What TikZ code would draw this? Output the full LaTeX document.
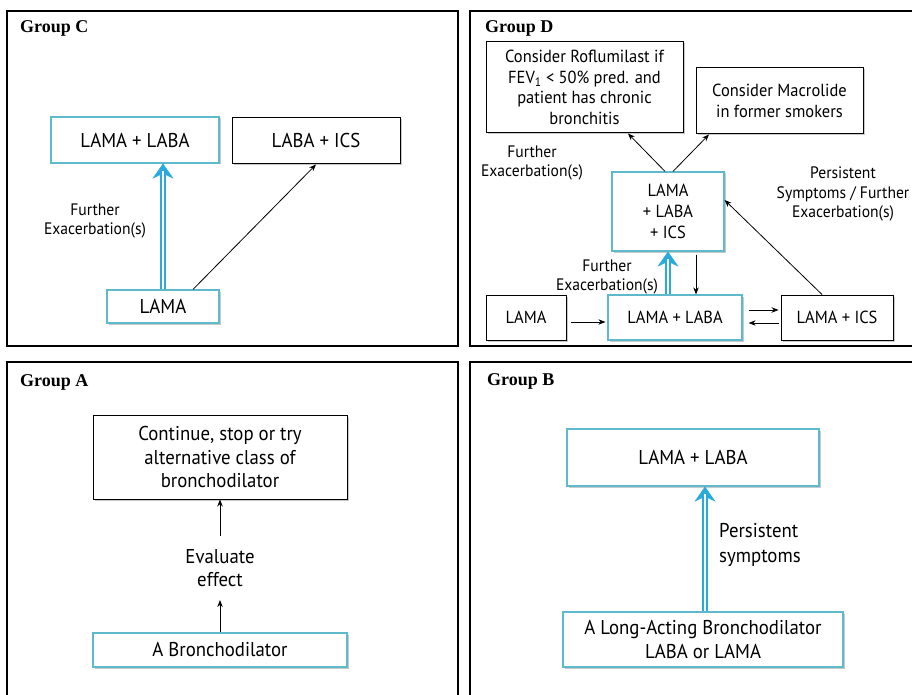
\documentclass[tikz,border=0pt]{standalone}
\usepackage{fontspec}
\setmainfont{PT Sans}[FakeStretch=0.94]
\newfontfamily\titlefont{Liberation Serif}
\usetikzlibrary{arrows.meta,shadows,calc}
\definecolor{boxblue}{RGB}{95,185,205}
\definecolor{arrblue}{RGB}{40,170,220}
\begin{document}
\begin{tikzpicture}[x=1pt,y=-1pt,
  panel/.style={line width=2.2pt},
  ttl/.style={anchor=west, font=\titlefont\bfseries\fontsize{18}{20}\selectfont, inner sep=0},
  box/.style={draw=black, line width=1pt, fill=white, align=center, inner sep=0,
    drop shadow={shadow xshift=1.5pt, shadow yshift=-1.5pt, opacity=0.35, fill=black!60}},
  bbox/.style={box, draw=boxblue, line width=1.2pt},
  big/.style={font=\fontsize{20}{23.5}\selectfont},
  small/.style={font=\fontsize{17.5}{20.7}\selectfont},
  lbl/.style={align=center, inner sep=0, font=\fontsize{16.6}{19.5}\selectfont},
  arr/.style={-{Stealth[length=7pt,width=5.5pt]}, line width=0.8pt},
  dbl/.style={draw=arrblue, line width=6.5pt,
    -{Stealth[length=15pt,width=21pt,inset=5pt,line width=0.3pt]},
    postaction={draw=white, line width=2pt, -, shorten >=7pt}}
]
\useasboundingbox (0,0) rectangle (912,695);
\fill[white] (0,0) rectangle (912,695);
% panels
\draw[panel] (7,11) rectangle (458,346);
\draw[panel] (7,695) -- (7,362) -- (458,362) -- (458,695);
\draw[panel] (912,11) -- (470,11) -- (470,346) -- (912,346);
\draw[panel] (470,695) -- (470,362) -- (912,362);

% Group C
\node[ttl] (tC) at (20,28) {Group C};
\node[bbox,big,minimum width=168pt,minimum height=46pt] (cLL) at (135,140) {LAMA + LABA};
\node[box,big,minimum width=168pt,minimum height=46pt] (cLI) at (316,141) {LABA + ICS};
\node[bbox,big,minimum width=112pt,minimum height=33pt] (cL) at (163,306.5) {LAMA};
\node[lbl] (cF) at (95,221) {Further\\Exacerbation(s)};
\draw[dbl] (cL.north) -- (cL.north |- cLL.south);
\draw[arr] ([xshift=30pt]cL.north) -- (cLI.south);

% Group A
\node[ttl] (tA) at (20,382) {Group A};
\node[box,big,minimum width=254pt,minimum height=84pt] (aT) at (220,457) {Continue, stop or try\\alternative class of\\bronchodilator};
\node[bbox,big,minimum width=254pt,minimum height=34pt] (aB) at (220,650) {A Bronchodilator};
\node[align=center,big,inner xsep=0pt,inner ysep=13pt] (aE) at (220,568) {Evaluate\\effect};
\draw[arr] (aB.north) -- (aE.south);
\draw[arr] (aE.north) -- (aT.south);

% Group B
\node[ttl] (tB) at (487,381) {Group B};
\node[bbox,big,minimum width=252pt,minimum height=57pt] (bT) at (693,457.5) {LAMA + LABA};
\node[bbox,big,minimum width=280pt,minimum height=55pt] (bB) at (703,639.5) {A Long-Acting Bronchodilator\\LABA or LAMA};
\draw[dbl] ([xshift=2pt]bB.north) -- ([xshift=2pt]bB.north |- bT.south);
\node[align=left,anchor=west,inner sep=0,font=\fontsize{20}{25}\selectfont] (bP) at (719,545) {Persistent\\symptoms};

% Group D
\node[ttl] (tD) at (485,28) {Group D};
\node[box,small,minimum width=197pt,minimum height=91pt] (dR) at (584.5,87.5) {Consider Roflumilast if\\FEV\textsubscript{1} < 50\% pred. and\\patient has chronic\\bronchitis};
\node[box,small,minimum width=167pt,minimum height=66pt] (dM) at (779.5,101) {Consider Macrolide\\in former smokers};
\node[lbl] (dF1) at (532,163) {Further\\Exacerbation(s)};
\node[bbox,small,minimum width=112pt,minimum height=79pt] (dT) at (668,211.5) {LAMA\\+ LABA\\+ ICS};
\node[lbl] (dP) at (843,194) {Persistent\\Symptoms / Further\\Exacerbation(s)};
\node[box,small,minimum width=80pt,minimum height=45pt] (dL) at (526,317.5) {LAMA};
\node[bbox,small,minimum width=134pt,minimum height=45pt] (dLL) at (675,317.5) {LAMA + LABA};
\node[box,small,minimum width=112pt,minimum height=45pt] (dLI) at (837,317.5) {LAMA + ICS};
\node[lbl] (dF2) at (607,277) {Further\\Exacerbation(s)};

\draw[arr] ([xshift=-3pt]dT.north) -- ([xshift=43.5pt]dR.south);
\draw[arr] ([xshift=5pt]dT.north) -- ([xshift=-70.5pt]dM.south);
\draw[arr] ([xshift=-15pt]dLI.north) -- ([yshift=11.5pt]dT.east);
\draw[dbl] ([xshift=-7pt]dLL.north) -- ([xshift=-7pt]dLL.north |- dT.south);
\draw[arr, shorten <=3pt] ([xshift=28pt]dT.south) -- ([xshift=28pt]dT.south |- dLL.north);
\draw[arr, shorten <=4pt, shorten >=2pt] ([yshift=-4.5pt]dL.east) -- ([yshift=-4.5pt]dL.east -| dLL.west);
\draw[arr, shorten <=6pt, shorten >=2pt] ([yshift=7.5pt]dLL.east) -- ([yshift=7.5pt]dLL.east -| dLI.west);
\draw[arr, shorten <=2pt, shorten >=6pt] ([yshift=-5.5pt]dLI.west) -- ([yshift=-5.5pt]dLI.west -| dLL.east);
\end{tikzpicture}
\end{document}
